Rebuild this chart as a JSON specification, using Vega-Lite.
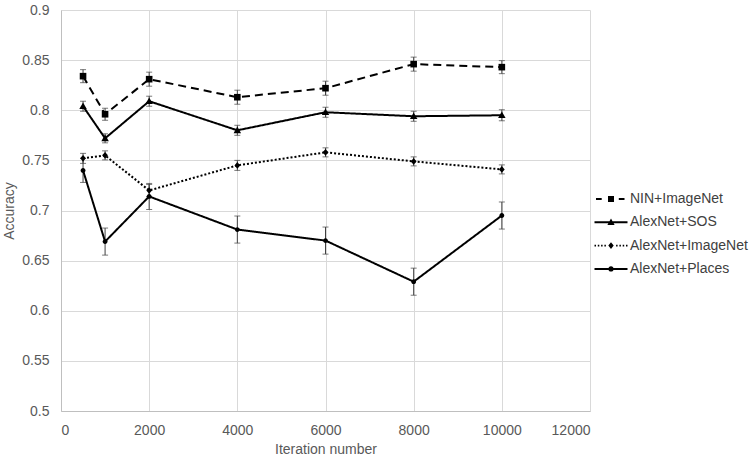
{
  "$schema": "https://vega.github.io/schema/vega-lite/v6.json",
  "width": 529,
  "height": 401,
  "autosize": "none",
  "padding": {"left": 61, "top": 10, "right": 159, "bottom": 46},
  "background": "white",
  "data": {"values": [
    {"series": "NIN+ImageNet", "iter": 500, "acc": 0.834, "err": 0.0065},
    {"series": "NIN+ImageNet", "iter": 1000, "acc": 0.796, "err": 0.006},
    {"series": "NIN+ImageNet", "iter": 2000, "acc": 0.831, "err": 0.007},
    {"series": "NIN+ImageNet", "iter": 4000, "acc": 0.813, "err": 0.007},
    {"series": "NIN+ImageNet", "iter": 6000, "acc": 0.822, "err": 0.007},
    {"series": "NIN+ImageNet", "iter": 8000, "acc": 0.846, "err": 0.007},
    {"series": "NIN+ImageNet", "iter": 10000, "acc": 0.843, "err": 0.0065},
    {"series": "AlexNet+SOS", "iter": 500, "acc": 0.804, "err": 0.005},
    {"series": "AlexNet+SOS", "iter": 1000, "acc": 0.772, "err": 0.0045},
    {"series": "AlexNet+SOS", "iter": 2000, "acc": 0.809, "err": 0.005},
    {"series": "AlexNet+SOS", "iter": 4000, "acc": 0.78, "err": 0.005},
    {"series": "AlexNet+SOS", "iter": 6000, "acc": 0.798, "err": 0.005},
    {"series": "AlexNet+SOS", "iter": 8000, "acc": 0.794, "err": 0.005},
    {"series": "AlexNet+SOS", "iter": 10000, "acc": 0.795, "err": 0.0055},
    {"series": "AlexNet+ImageNet", "iter": 500, "acc": 0.752, "err": 0.005},
    {"series": "AlexNet+ImageNet", "iter": 1000, "acc": 0.755, "err": 0.0045},
    {"series": "AlexNet+ImageNet", "iter": 2000, "acc": 0.72, "err": 0.006},
    {"series": "AlexNet+ImageNet", "iter": 4000, "acc": 0.745, "err": 0.005},
    {"series": "AlexNet+ImageNet", "iter": 6000, "acc": 0.758, "err": 0.0045},
    {"series": "AlexNet+ImageNet", "iter": 8000, "acc": 0.749, "err": 0.0045},
    {"series": "AlexNet+ImageNet", "iter": 10000, "acc": 0.741, "err": 0.0045},
    {"series": "AlexNet+Places", "iter": 500, "acc": 0.74, "err": 0.012},
    {"series": "AlexNet+Places", "iter": 1000, "acc": 0.669, "err": 0.0135},
    {"series": "AlexNet+Places", "iter": 2000, "acc": 0.714, "err": 0.013},
    {"series": "AlexNet+Places", "iter": 4000, "acc": 0.681, "err": 0.0135},
    {"series": "AlexNet+Places", "iter": 6000, "acc": 0.67, "err": 0.0135},
    {"series": "AlexNet+Places", "iter": 8000, "acc": 0.629, "err": 0.0135},
    {"series": "AlexNet+Places", "iter": 10000, "acc": 0.695, "err": 0.0135}
  ]},
  "encoding": {
    "x": {"field": "iter", "type": "quantitative",
      "scale": {"domain": [0, 12000], "nice": false},
      "axis": {"values": [0, 2000, 4000, 6000, 8000, 10000, 12000], "format": "d", "title": "Iteration number", "labelPadding": 12, "titlePadding": 5}},
    "y": {"field": "acc", "type": "quantitative",
      "scale": {"domain": [0.5, 0.9], "nice": false, "zero": false},
      "axis": {"values": [0.5, 0.55, 0.6, 0.65, 0.7, 0.75, 0.8, 0.85, 0.9], "format": ".2~f", "title": "Accuracy", "labelPadding": 12, "titlePadding": 5}}
  },
  "layer": [
    {
      "mark": {"type": "errorbar", "ticks": true, "color": "#404040", "thickness": 1, "size": 6},
      "encoding": {
        "y": {"field": "acc", "type": "quantitative"},
        "yError": {"field": "err"},
        "detail": {"field": "series"}
      }
    },
    {
      "mark": {"type": "line", "color": "black", "strokeWidth": 2},
      "encoding": {
        "detail": {"field": "series"},
        "strokeDash": {"field": "series", "type": "nominal", "legend": null,
          "scale": {"domain": ["NIN+ImageNet", "AlexNet+SOS", "AlexNet+ImageNet", "AlexNet+Places"],
                    "range": [[8, 5], [1, 0], [2, 2], [1, 0]]}}
      }
    },
    {
      "mark": {"type": "point", "filled": true, "color": "black", "opacity": 1, "size": 36},
      "encoding": {
        "shape": {"field": "series", "type": "nominal", "legend": null,
          "scale": {"domain": ["NIN+ImageNet", "AlexNet+SOS", "AlexNet+ImageNet", "AlexNet+Places"],
                    "range": ["M-1.1,-1.1H1.1V1.1H-1.1Z", "M0,-1.25L1.25,0.95H-1.25Z", "M0,-1.1L0.95,0L0,1.1L-0.95,0Z", "M0.8,0A0.8,0.8 0 1,1 -0.8,0A0.8,0.8 0 1,1 0.8,0Z"]}}
      }
    },
    {
      "mark": {"type": "point", "filled": true, "color": "black", "stroke": "black", "strokeWidth": 2, "opacity": 0},
      "encoding": {
        "shape": {"field": "series", "type": "nominal",
          "scale": {"domain": ["NIN+ImageNet", "AlexNet+SOS", "AlexNet+ImageNet", "AlexNet+Places"],
                    "range": [
                      "M-2.5,-0.17H-1.55V0.17H-2.5Z M1.3,-0.17H2.25V0.17H1.3Z M-0.5,-0.5H0.5V0.5H-0.5Z",
                      "M-2.75,-0.17H2.75V0.17H-2.75Z M0,-0.65L0.6,0.45H-0.6Z",
                      "M-2.75,-0.13H-2.5V0.13H-2.75Z M-2.2,-0.13H-1.95V0.13H-2.2Z M-1.65,-0.13H-1.4V0.13H-1.65Z M-1.1,-0.13H-0.85V0.13H-1.1Z M0.85,-0.13H1.1V0.13H0.85Z M1.4,-0.13H1.65V0.13H1.4Z M1.95,-0.13H2.2V0.13H1.95Z M2.5,-0.13H2.75V0.13H2.5Z M0,-0.55L0.45,0L0,0.55L-0.45,0Z",
                      "M-2.75,-0.17H2.75V0.17H-2.75Z M0.45,0A0.45,0.45 0 1,1 -0.45,0A0.45,0.45 0 1,1 0.45,0Z"
                    ]}}
      }
    }
  ],
  "resolve": {"scale": {"shape": "independent"}},
  "config": {
    "view": {"stroke": null},
    "font": "Liberation Sans",
    "axis": {
      "labelFont": "Liberation Sans", "labelFontSize": 14, "labelColor": "#595959",
      "titleFont": "Liberation Sans", "titleFontSize": 14, "titleFontWeight": "normal", "titleColor": "#595959",
      "gridColor": "#d9d9d9", "gridWidth": 1, "domainColor": "#bfbfbf", "ticks": false
    },
    "legend": {
      "orient": "none", "legendX": 543, "legendY": 182, "title": null,
      "labelFont": "Liberation Sans", "labelFontSize": 14, "labelColor": "#404040",
      "symbolSize": 144, "symbolOpacity": 1, "symbolFillColor": "black", "symbolStrokeColor": "black", "symbolStrokeWidth": 2,
      "labelOffset": 12, "rowPadding": 8.3, "padding": 0
    }
  }
}
